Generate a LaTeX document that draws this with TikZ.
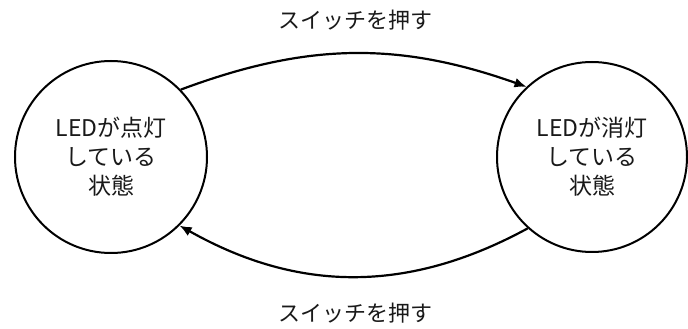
\documentclass[tikz,border=0pt]{standalone}
\usepackage{fontspec}
\setmainfont{Noto Sans CJK JP}
\usetikzlibrary{positioning,arrows.meta}
\tikzset{
  flowarrow/.style={-{Latex[length=12pt,width=10pt]}, line width=2.2pt},
  statenode/.style={draw, circle, line width=2pt, minimum size=192pt, inner sep=0pt, align=center, font=\fontsize{23}{29}\selectfont, text=black!90},
  edgelabel/.style={font=\fontsize{22}{26}\selectfont, text=black!90}
}

\begin{document}
\begin{tikzpicture}[x=1pt, y=1pt]
  \useasboundingbox (0,0) rectangle (688,329);
  \node[statenode] (on) at (111,172) {LEDが点灯\\している\\状態};
  \node[statenode, minimum size=190pt] (off) at (592,172) {LEDが消灯\\している\\状態};
  \draw[flowarrow] (on.44) to[bend left=20] (off.133);
  \draw[flowarrow] (off.228) to[bend left=29] (on.315);
  \node[edgelabel] (push1) at (355,309) {スイッチを押す};
  \node[edgelabel] (push2) at (355,16) {スイッチを押す};
\end{tikzpicture}
\end{document}
